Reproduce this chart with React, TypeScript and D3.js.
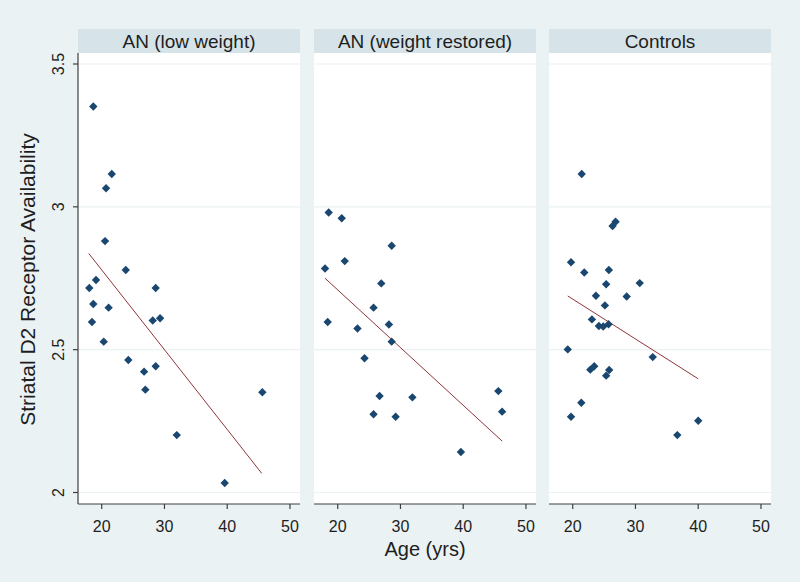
import React from "react";
import * as d3 from "d3";

const panels = ["AN (low weight)", "AN (weight restored)", "Controls"];

const lowWeightAge = [18.66, 21.6, 20.69, 20.53, 23.83, 19.09, 18.02, 28.6, 18.66, 21.1, 18.45, 28.13, 29.3, 20.32, 24.24, 26.75, 28.6, 26.95, 45.6, 31.96, 39.6];
const lowWeightVal = [3.351, 3.115, 3.065, 2.88, 2.779, 2.744, 2.716, 2.716, 2.66, 2.647, 2.597, 2.602, 2.61, 2.528, 2.464, 2.423, 2.442, 2.36, 2.351, 2.201, 2.033];

const restoredAge = [18.56, 20.64, 28.6, 21.12, 17.98, 26.94, 25.71, 18.4, 23.15, 28.16, 28.6, 24.27, 26.67, 31.9, 45.6, 25.71, 29.23, 46.2, 39.63];
const restoredVal = [2.98, 2.96, 2.864, 2.81, 2.784, 2.732, 2.647, 2.597, 2.574, 2.588, 2.528, 2.47, 2.338, 2.333, 2.355, 2.274, 2.265, 2.283, 2.142];

const controlsAge = [21.43, 26.83, 26.35, 19.73, 21.84, 25.76, 25.33, 30.68, 23.7, 28.6, 25.13, 23.06, 24.17, 24.86, 25.71, 19.21, 32.75, 22.8, 23.43, 25.81, 25.33, 21.37, 19.73, 40.0, 36.67];
const controlsVal = [3.115, 2.948, 2.933, 2.806, 2.77, 2.779, 2.729, 2.733, 2.689, 2.686, 2.655, 2.606, 2.583, 2.581, 2.589, 2.501, 2.474, 2.43, 2.442, 2.429, 2.409, 2.314, 2.265, 2.251, 2.201];

// fitted line endpoints: [age, value]
const fitLowWeight = [[17.93, 2.837], [45.5, 2.067]];
const fitRestored = [[17.98, 2.75], [46.2, 2.18]];
const fitControls = [[19.21, 2.688], [40.0, 2.398]];

const xTicks = [20, 30, 40, 50];
const yTicks = [2, 2.5, 3, 3.5];

const series = [
  { age: lowWeightAge, val: lowWeightVal, fit: fitLowWeight },
  { age: restoredAge, val: restoredVal, fit: fitRestored },
  { age: controlsAge, val: controlsVal, fit: fitControls },
];

const W = 800, H = 582;
const panelLefts = [78, 314, 549];
const panelW = 222;
const headerTop = 29, headerBottom = 53;
const plotTop = 53, plotBottom = 504;

const BG = "#eaf2f3";
const STRIP = "#d6e4ea";
const GRID = "#eaf2f3";
const NAVY = "#1a476f";
const MAROON = "#90353b";
const AXIS = "#3f3f3f";
const TXT = "#1e1e1e";
const FONT = "'Liberation Sans', Arial, Helvetica, sans-serif";

const y = d3.scaleLinear().domain([2, 3.5]).range([492.5, 64]);

function diamond(r: number) {
  return `M0,${-r}L${r},0L0,${r}L${-r},0Z`;
}

export default function App() {
  return (
    <svg width={W} height={H} style={{ position: "absolute", left: 0, top: 0, display: "block" }} fontFamily={FONT}>
      <rect x={0} y={0} width={W} height={H} fill={BG} />
      {series.map((s, i) => {
        const left = panelLefts[i];
        const x = d3.scaleLinear().domain([16.22, 51.6]).range([left, left + panelW]);
        const line = d3.line<number[]>().x((d) => x(d[0])).y((d) => y(d[1]));
        return (
          <g key={i}>
            <rect x={left} y={headerTop} width={panelW} height={headerBottom - headerTop} fill={STRIP} />
            <text x={left + panelW / 2} y={47.5} textAnchor="middle" fontSize={19} fill={TXT}>
              {panels[i]}
            </text>
            <rect x={left} y={plotTop} width={panelW} height={plotBottom - plotTop} fill="#ffffff" />
            {yTicks.map((t) => (
              <line key={t} x1={left} x2={left + panelW} y1={y(t)} y2={y(t)} stroke={GRID} strokeWidth={1.2} />
            ))}
            <path d={line(s.fit) || ""} fill="none" stroke={MAROON} strokeWidth={1} />
            {s.age.map((a, j) => (
              <path key={j} d={diamond(4.2)} transform={`translate(${x(a)},${y(s.val[j])})`} fill={NAVY} />
            ))}
            <line x1={left} x2={left + panelW} y1={plotBottom} y2={plotBottom} stroke={AXIS} strokeWidth={1.2} />
            {xTicks.map((t) => (
              <g key={t}>
                <line x1={x(t)} x2={x(t)} y1={plotBottom} y2={plotBottom + 5} stroke={AXIS} strokeWidth={1.2} />
                <text x={x(t)} y={532} textAnchor="middle" fontSize={16} fill={TXT}>
                  {t}
                </text>
              </g>
            ))}
          </g>
        );
      })}
      {/* y axis on first panel */}
      <line x1={panelLefts[0]} x2={panelLefts[0]} y1={plotTop} y2={plotBottom} stroke={AXIS} strokeWidth={1.2} />
      {yTicks.map((t) => (
        <g key={t}>
          <line x1={panelLefts[0] - 5} x2={panelLefts[0]} y1={y(t)} y2={y(t)} stroke={AXIS} strokeWidth={1.2} />
          <text transform={`translate(64,${y(t)}) rotate(-90)`} textAnchor="middle" fontSize={16} fill={TXT}>
            {String(t)}
          </text>
        </g>
      ))}
      <text transform={`translate(34.5,${(plotTop + plotBottom) / 2 + 1}) rotate(-90)`} textAnchor="middle" fontSize={21} fill={TXT}>
        Striatal D2 Receptor Availability
      </text>
      <text x={panelLefts[1] + panelW / 2} y={556} textAnchor="middle" fontSize={20} fill={TXT}>
        Age (yrs)
      </text>
    </svg>
  );
}
